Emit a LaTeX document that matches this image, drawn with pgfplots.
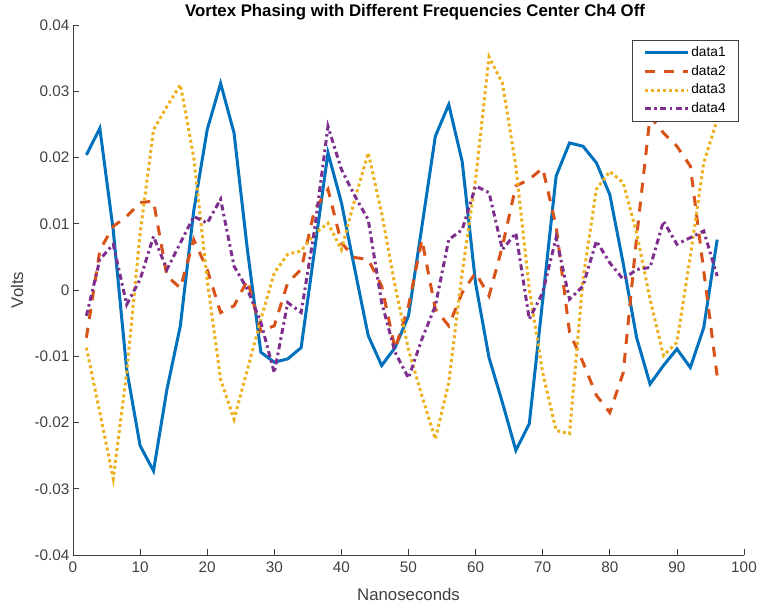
\documentclass[border=0pt]{standalone}
\usepackage{pgfplots}
\pgfplotsset{compat=1.18}
\usepackage{pgfplotstable}
\usepackage{fontspec}
\setmainfont{Liberation Sans}
\definecolor{c1}{rgb}{0,0.447,0.741}
\definecolor{c2}{rgb}{0.85,0.325,0.098}
\definecolor{c3}{rgb}{0.929,0.694,0.125}
\definecolor{c4}{rgb}{0.494,0.184,0.556}
\definecolor{axc}{rgb}{0.25,0.25,0.25}

\pgfplotstableread{
x d1 d2 d3 d4
2 0.0204 -0.0072 -0.0087 -0.0039
4 0.0244 0.0060 -0.0185 0.0046
6 0.0090 0.0096 -0.0285 0.0069
8 -0.0120 0.0111 -0.0125 -0.0022
10 -0.0235 0.0132 0.0085 0.0016
12 -0.0273 0.0134 0.0242 0.0081
14 -0.0150 0.0021 0.0277 0.0031
16 -0.0054 0.0003 0.0310 0.0071
18 0.0120 0.0076 0.0200 0.0111
20 0.0242 0.0031 0.0015 0.0101
22 0.0312 -0.0034 -0.0135 0.0137
24 0.0237 -0.0024 -0.0195 0.0036
26 0.0060 0.0015 -0.0120 0.0001
28 -0.0094 -0.0062 -0.0044 -0.0049
30 -0.0109 -0.0054 0.0026 -0.0125
32 -0.0104 0.0011 0.0054 -0.0019
34 -0.0087 0.0031 0.0059 -0.0034
36 0.0060 0.0121 0.0085 0.0091
38 0.0207 0.0152 0.0101 0.0247
40 0.0132 0.0071 0.0061 0.0182
42 0.0031 0.0049 0.0137 0.0142
44 -0.0069 0.0046 0.0207 0.0106
46 -0.0114 0.0006 0.0116 -0.0019
48 -0.0087 -0.0089 0.0006 -0.0094
50 -0.0039 -0.0024 -0.0090 -0.0133
52 0.0096 0.0076 -0.0160 -0.0074
54 0.0232 -0.0029 -0.0225 -0.0024
56 0.0280 -0.0054 -0.0140 0.0076
58 0.0194 -0.0004 0.0026 0.0091
60 0.0010 0.0026 0.0167 0.0157
62 -0.0102 -0.0009 0.0352 0.0147
64 -0.0170 0.0066 0.0312 0.0061
66 -0.0242 0.0157 0.0187 0.0086
68 -0.0202 0.0167 0.0001 -0.0044
70 -0.0015 0.0184 -0.0125 -0.0004
72 0.0172 0.0096 -0.0212 0.0079
74 0.0222 -0.0064 -0.0217 -0.0014
76 0.0217 -0.0109 0.0016 0.0006
78 0.0192 -0.0159 0.0152 0.0074
80 0.0144 -0.0185 0.0179 0.0041
82 0.0040 -0.0125 0.0162 0.0016
84 -0.0072 0.0080 0.0086 0.0031
86 -0.0142 0.0262 -0.0014 0.0034
88 -0.0114 0.0237 -0.0099 0.0104
90 -0.0089 0.0217 -0.0079 0.0069
92 -0.0117 0.0187 0.0051 0.0079
94 -0.0057 0.0029 0.0192 0.0089
96 0.0076 -0.0130 0.0257 0.0021
}\datatable

\begin{document}
\begin{tikzpicture}
\path[use as bounding box] (-73pt,-49pt) rectangle (685pt,555pt);
\begin{axis}[
  at={(0pt,0pt)}, anchor=south west,
  width=671pt, height=530pt, scale only axis,
  xmin=0, xmax=100, ymin=-0.04, ymax=0.04,
  axis x line*=bottom, axis y line*=left,
  axis line style={-, draw=axc, line width=0.8pt},
  tick style={draw=axc, line width=0.8pt},
  tick align=inside, major tick length=6pt,
  xtick={0,10,20,30,40,50,60,70,80,90,100},
  xticklabels={0,10,20,30,40,50,60,70,80,90,100},
  ytick={-0.04,-0.03,-0.02,-0.01,0,0.01,0.02,0.03,0.04},
  yticklabels={-0.04,-0.03,-0.02,-0.01,0,0.01,0.02,0.03,0.04},
  scaled y ticks=false,
  ticklabel style={font=\fontsize{15.3}{18}\selectfont, text=axc},
  xticklabel style={yshift=-3pt},
  xlabel={Nanoseconds}, ylabel={Volts},
  label style={font=\fontsize{16.8}{20}\selectfont, text=axc},
  xlabel style={at={(axis description cs:0.5,-0.0855)}, anchor=base},
  ylabel style={at={(axis description cs:-0.0745,0.5)}, anchor=base},
  title={Vortex Phasing with Different Frequencies Center Ch4 Off},
  title style={font=\bfseries\fontsize{16.8}{20}\selectfont, at={(axis description cs:0.5097,1.0038)}, anchor=base},
  legend style={at={(axis description cs:0.9925,0.9717)}, anchor=north east,
    draw=axc, line width=0.6pt, inner xsep=11pt, inner ysep=3pt,
    font=\fontsize{13.7}{16}\selectfont, row sep=0pt,
    nodes={inner ysep=3.2pt, inner xsep=2pt, text height=9.8pt, text depth=2.5pt}},
  legend cell align=left,
  legend image code/.code={\draw[#1] (0pt,0pt) -- (43pt,0pt);},
  every axis plot/.append style={line width=3pt},
]
\addplot[c1, solid] table[x=x, y=d1] {\datatable};
\addlegendentry{data1}
\addplot[c2, dash pattern=on 10pt off 9pt] table[x=x, y=d2] {\datatable};
\addlegendentry{data2}
\addplot[c3, dash pattern=on 3pt off 3pt] table[x=x, y=d3] {\datatable};
\addlegendentry{data3}
\addplot[c4, dash pattern=on 6pt off 3.5pt on 2.5pt off 3.5pt] table[x=x, y=d4] {\datatable};
\addlegendentry{data4}
\end{axis}
\end{tikzpicture}
\end{document}
